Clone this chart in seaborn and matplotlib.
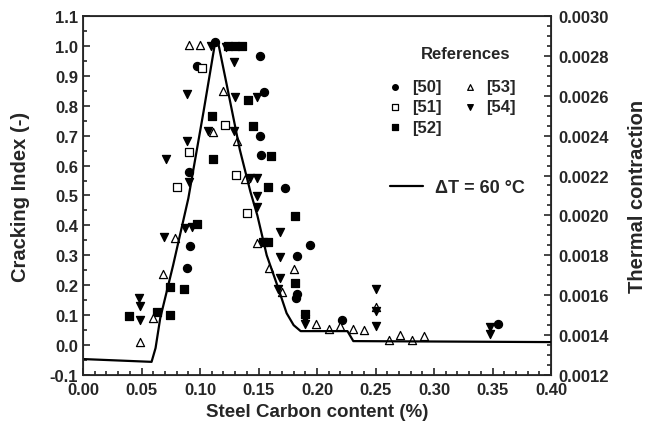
import seaborn as sns
import matplotlib.pyplot as plt
from matplotlib.ticker import MultipleLocator, FormatStrFormatter
import pandas as pd

# cracking index data, per reference
ref50_c = [0.1128, 0.1514, 0.0972, 0.155, 0.1514, 0.152, 0.0908, 0.173, 0.1937, 0.183,
           0.183, 0.182, 0.0886, 0.0914, 0.221, 0.355]
ref50_ci = [1.012, 0.965, 0.932, 0.845, 0.698, 0.635, 0.577, 0.524, 0.334, 0.298,
            0.170, 0.156, 0.256, 0.332, 0.084, 0.07]

ref51_c = [0.1015, 0.121, 0.0908, 0.1308, 0.080, 0.1405]
ref51_ci = [0.926, 0.735, 0.646, 0.569, 0.529, 0.443]

ref52_c = [0.124, 0.130, 0.136, 0.1414, 0.110, 0.1457, 0.1606, 0.1109, 0.158, 0.1814,
           0.154, 0.1585, 0.181, 0.19, 0.0394, 0.063, 0.0743, 0.0743, 0.0866, 0.0977]
ref52_ci = [1.0, 1.0, 1.0, 0.82, 0.764, 0.733, 0.631, 0.622, 0.527, 0.43,
            0.343, 0.343, 0.209, 0.103, 0.098, 0.109, 0.193, 0.1, 0.189, 0.404]

ref53_c = [0.0906, 0.100, 0.12, 0.111, 0.1314, 0.1386, 0.1486, 0.159, 0.18, 0.17,
           0.1994, 0.21, 0.22, 0.231, 0.2405, 0.0486, 0.0595, 0.0686, 0.0786, 0.25,
           0.2614, 0.271, 0.281, 0.291]
ref53_ci = [1.003, 1.003, 0.848, 0.711, 0.683, 0.555, 0.34, 0.256, 0.254, 0.176,
            0.07, 0.053, 0.064, 0.055, 0.051, 0.011, 0.089, 0.239, 0.357, 0.128,
            0.017, 0.033, 0.016, 0.029]

ref54_c = [0.109, 0.122, 0.1294, 0.0886, 0.130, 0.1486, 0.107, 0.129, 0.0886, 0.0709,
           0.1428, 0.1486, 0.0908, 0.1486, 0.1486, 0.1686, 0.1686, 0.1686, 0.167, 0.19,
           0.19, 0.048, 0.0486, 0.0486, 0.069, 0.087, 0.093, 0.25, 0.25, 0.25,
           0.348, 0.348]
ref54_ci = [1.0, 0.995, 0.945, 0.839, 0.828, 0.828, 0.714, 0.716, 0.683, 0.622,
            0.56, 0.557, 0.546, 0.499, 0.46, 0.379, 0.293, 0.224, 0.187, 0.087,
            0.07, 0.159, 0.131, 0.084, 0.36, 0.39, 0.395, 0.189, 0.114, 0.064,
            0.059, 0.037]

# thermal contraction curve for dT = 60 C
line_c = [0.0, 0.0586, 0.062, 0.066, 0.077, 0.090, 0.103, 0.113, 0.1157, 0.123,
          0.134, 0.143, 0.149, 0.157, 0.166, 0.174, 0.180, 0.186, 0.226, 0.231, 0.40]
line_tc = [0.00128, 0.001266, 0.001335, 0.001485, 0.00175, 0.002085, 0.00252, 0.00287,
           0.00286, 0.00265, 0.00233, 0.00212, 0.00200, 0.00180, 0.00165, 0.00151,
           0.00145, 0.00142, 0.00142, 0.00137, 0.001365]

sns.set_style("ticks")
plt.rcParams['font.family'] = ['Liberation Sans', 'DejaVu Sans']
plt.rcParams['font.weight'] = 'bold'
plt.rcParams['axes.labelweight'] = 'bold'

fig = plt.figure(figsize=(6.51, 4.35), dpi=100)
ax = fig.add_axes([0.1275, 0.1356, 0.719, 0.8255])

refs = [
    ("[50]", ref50_c, ref50_ci, "o", "black"),
    ("[51]", ref51_c, ref51_ci, "s", "white"),
    ("[52]", ref52_c, ref52_ci, "s", "black"),
    ("[53]", ref53_c, ref53_ci, "^", "white"),
    ("[54]", ref54_c, ref54_ci, "v", "black"),
]
for name, xs, ys, m, fc in refs:
    df = pd.DataFrame({"carbon": xs, "ci": ys})
    sns.scatterplot(data=df, x="carbon", y="ci", marker=m, color=fc,
                    edgecolor="black", linewidth=0.9, s=34, ax=ax, label=name, zorder=3)

ax.set_xlim(0, 0.40)
ax.set_ylim(-0.1, 1.1)
ax.xaxis.set_major_locator(MultipleLocator(0.05))
ax.xaxis.set_minor_locator(MultipleLocator(0.01))
ax.yaxis.set_major_locator(MultipleLocator(0.1))
ax.yaxis.set_minor_locator(MultipleLocator(0.05))
ax.xaxis.set_major_formatter(FormatStrFormatter("%.2f"))
ax.yaxis.set_major_formatter(FormatStrFormatter("%.1f"))
ax.tick_params(which="both", direction="in", labelsize=12, width=1.2)
ax.tick_params(which="major", length=5)
ax.tick_params(which="minor", length=3)
ax.tick_params(axis="x", pad=5)
ax.set_xlabel("Steel Carbon content (%)", fontsize=13.5, fontweight="bold")
ax.set_ylabel("Cracking Index (-)", fontsize=14.5, fontweight="bold", labelpad=14)
for sp in ax.spines.values():
    sp.set_linewidth(1.3)

ax2 = ax.twinx()
ldf = pd.DataFrame({"carbon": line_c, "tc": line_tc})
sns.lineplot(data=ldf, x="carbon", y="tc", color="black", linewidth=1.6, ax=ax2,
             estimator=None, label="\u0394T = 60 \u00b0C")
ax2.set_ylim(0.0012, 0.0030)
ax2.yaxis.set_major_locator(MultipleLocator(0.0002))
ax2.yaxis.set_minor_locator(MultipleLocator(0.00005))
ax2.yaxis.set_major_formatter(FormatStrFormatter("%.4f"))
ax2.tick_params(which="both", direction="in", labelsize=12, width=1.2, pad=5)
ax2.tick_params(which="major", length=5)
ax2.tick_params(which="minor", length=3)
ax2.set_ylabel("Thermal contraction", fontsize=14.5, fontweight="bold", labelpad=14)
ax2.set_xlabel("")

ax.text(0.818, 0.894, "References", transform=ax.transAxes, ha="center", va="center",
        fontsize=12, fontweight="bold")
h, l = ax.get_legend_handles_labels()
ax.legend(h, l, ncol=2, frameon=False, loc="upper left",
          bbox_to_anchor=(0.635, 0.843), fontsize=12, markerscale=0.7,
          handlelength=1.0, handletextpad=0.5, columnspacing=1.2,
          labelspacing=0.32, borderaxespad=0)
ax2.legend(loc="center left", bbox_to_anchor=(0.64, 0.521), frameon=False,
           fontsize=13, handlelength=1.83, handletextpad=0.65, borderaxespad=0)

fig.savefig("out.png", dpi=100)
